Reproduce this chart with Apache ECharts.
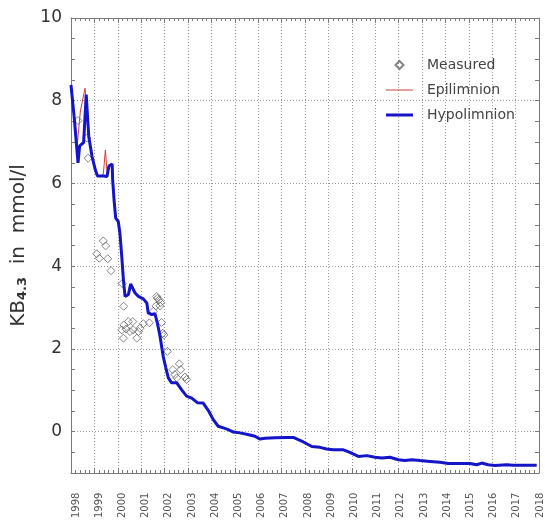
<!DOCTYPE html>
<html><head><meta charset="utf-8">
<script src="https://cdn.jsdelivr.net/npm/echarts@6/dist/echarts.min.js"></script>
<style>html,body{margin:0;padding:0;background:#fff}#c{width:545px;height:521px}</style>
</head><body><div id="c"></div>
<script>
// Tick labels
const xTickLabels = [1998,1999,2000,2001,2002,2003,2004,2005,2006,2007,2008,2009,2010,2011,2012,2013,2014,2015,2016,2017,2018];
const yTickLabels = [0,2,4,6,8,10];

// Hypolimnion (blue) [year, KB4.3]
const hypo = [
[1998.00,8.38],[1998.14,7.58],[1998.30,6.50],[1998.37,6.91],[1998.54,6.99],[1998.65,8.15],[1998.76,7.13],
[1998.90,6.65],[1999.04,6.33],[1999.13,6.18],[1999.21,6.17],[1999.40,6.18],[1999.54,6.17],[1999.62,6.42],
[1999.76,6.47],[1999.78,6.09],[1999.84,5.60],[1999.91,5.16],[2000.02,5.08],[2000.09,4.80],[2000.17,4.23],
[2000.24,3.67],[2000.31,3.27],[2000.45,3.31],[2000.55,3.57],[2000.74,3.35],[2000.88,3.27],[2001.09,3.21],
[2001.24,3.11],[2001.30,2.87],[2001.45,2.83],[2001.59,2.85],[2001.70,2.60],[2001.80,2.32],[2001.94,1.82],
[2002.05,1.55],[2002.16,1.30],[2002.30,1.18],[2002.52,1.18],[2002.73,1.01],[2002.94,0.86],[2003.16,0.81],
[2003.40,0.70],[2003.65,0.69],[2003.87,0.51],[2004.08,0.29],[2004.29,0.13],[2004.51,0.09],[2004.72,0.05],
[2004.94,-0.01],[2005.22,-0.03],[2005.55,-0.07],[2005.86,-0.11],[2006.08,-0.18],[2006.29,-0.16],[2006.72,-0.15],
[2007.22,-0.14],[2007.50,-0.14],[2007.93,-0.25],[2008.29,-0.36],[2008.64,-0.38],[2008.93,-0.42],[2009.21,-0.44],
[2009.64,-0.44],[2009.92,-0.50],[2010.28,-0.60],[2010.64,-0.58],[2010.99,-0.62],[2011.28,-0.64],[2011.63,-0.62],
[2011.99,-0.68],[2012.27,-0.70],[2012.56,-0.68],[2012.91,-0.70],[2013.34,-0.72],[2013.77,-0.74],[2014.12,-0.77],
[2014.62,-0.77],[2015.05,-0.77],[2015.34,-0.80],[2015.55,-0.76],[2015.83,-0.80],[2016.12,-0.82],[2016.62,-0.80],
[2016.90,-0.81],[2017.47,-0.81],[2017.90,-0.81]
];

// Epilimnion (red): differs from hypolimnion only in the early part
const epiEarly = [
[1998.00,8.38],[1998.14,7.58],[1998.27,6.95],[1998.40,7.75],[1998.60,8.30],[1998.76,7.15],[1998.90,6.65],
[1999.04,6.33],[1999.13,6.18],[1999.25,6.17],[1999.38,6.22],[1999.47,6.81],[1999.55,6.20],[1999.62,6.42]
];
const epi = epiEarly.concat(hypo.filter(p => p[0] > 1999.62));

// Measured values
const measured = [
[1998.30,7.52],[1998.68,7.10],[1998.73,6.61],
[1999.10,4.30],[1999.21,4.19],[1999.38,4.61],[1999.48,4.49],[1999.57,4.18],[1999.71,3.89],
[2000.19,3.58],[2000.25,3.03],
[2000.17,2.46],[2000.24,2.26],[2000.26,2.58],[2000.35,2.48],[2000.45,2.66],[2000.52,2.42],[2000.64,2.66],
[2000.66,2.46],[2000.81,2.26],[2000.88,2.42],[2000.95,2.50],[2001.09,2.61],[2001.35,2.63],[2001.52,2.91],
[2001.66,3.27],[2001.63,3.04],[2001.69,3.22],[2001.77,3.19],[2001.80,3.04],[2001.83,3.12],[2001.87,2.64],
[2001.92,2.38],[2001.97,2.34],[2002.12,1.94],[2002.35,1.50],[2002.44,1.38],[2002.52,1.30],[2002.63,1.64],
[2002.69,1.50],[2002.87,1.32],[2002.94,1.26]
];

const FONT = 'DejaVu Sans, Verdana, sans-serif';
const axisGray = '#7a7a7a';
const gridGray = '#9a9a9a';
const chart = echarts.init(document.getElementById('c'), null, {renderer:'canvas'});
chart.setOption({
  animation:false,
  backgroundColor:'#fff',
  textStyle:{fontFamily:FONT},
  grid:[
    {left:71, right:6, top:18, bottom:48},
    {left:76, right:1, top:18, bottom:48}
  ],
  legend:{
    orient:'vertical', left:386, top:58, padding:0, itemWidth:27, itemHeight:8, itemGap:11,
    textStyle:{fontSize:14, color:'#444', fontFamily:FONT, padding:[0,0,0,9]},
    data:[
      {name:'Measured', icon:'path://M4,0L8,4L4,8L0,4Z'},
      {name:'Epilimnion', icon:'path://M0,0H27V1H0Z'},
      {name:'Hypolimnion', icon:'path://M0,0H27V3H0Z'}
    ]
  },
  xAxis:[
    {type:'value', gridIndex:0, min:1998, max:2018, interval:1, position:'bottom',
     axisLine:{show:true, onZero:false, lineStyle:{color:axisGray}},
     axisTick:{show:true, inside:true, length:5, lineStyle:{color:axisGray}},
     minorTick:{show:true, splitNumber:5, length:3, lineStyle:{color:axisGray}},
     splitLine:{show:true, lineStyle:{color:gridGray, type:[1,2]}},
     axisLabel:{show:false}},
    {type:'value', gridIndex:0, min:1998, max:2018, interval:1, position:'top',
     axisLine:{show:true, onZero:false, lineStyle:{color:axisGray}},
     axisTick:{show:true, inside:true, length:5, lineStyle:{color:axisGray}},
     minorTick:{show:true, splitNumber:5, length:3, lineStyle:{color:axisGray}},
     splitLine:{show:false}, axisLabel:{show:false}},
    {type:'value', gridIndex:1, min:1998, max:2018, interval:1, position:'bottom',
     axisLine:{show:false, onZero:false}, axisTick:{show:false}, splitLine:{show:false},
     axisLabel:{rotate:90, margin:23, fontSize:10, color:'#555', fontFamily:FONT,
       formatter:v => xTickLabels.indexOf(v) >= 0 ? String(v) : ''}}
  ],
  yAxis:[
    {type:'value', gridIndex:0, min:-1, max:10, interval:0.5, position:'left',
     axisLine:{show:true, onZero:false, lineStyle:{color:axisGray}},
     axisTick:{show:true, inside:true, length:4, lineStyle:{color:axisGray}},
     splitLine:{show:true, lineStyle:{color:['rgba(0,0,0,0)','rgba(0,0,0,0)',gridGray,'rgba(0,0,0,0)'], type:[1,2]}},
     axisLabel:{margin:9, fontSize:17, color:'#333', fontFamily:FONT,
       formatter:v => yTickLabels.indexOf(v) >= 0 ? String(v) : ''},
     name:'{a|KB}{s|4.3}{a|  in  mmol/l}', nameLocation:'middle', nameRotate:90, nameGap:37,
     nameTextStyle:{fontSize:20, color:'#333', fontFamily:FONT,
       rich:{a:{fontSize:20, color:'#333', fontFamily:FONT}, s:{fontSize:13, fontWeight:'bold', color:'#333', fontFamily:FONT, padding:[9,0,0,0]}}}},
    {type:'value', gridIndex:0, min:-1, max:10, interval:0.5, position:'right',
     axisLine:{show:true, onZero:false, lineStyle:{color:axisGray}},
     axisTick:{show:true, inside:true, length:4, lineStyle:{color:axisGray}},
     splitLine:{show:false}, axisLabel:{show:false}},
    {type:'value', gridIndex:1, min:-1, max:10, show:false}
  ],
  series:[
    {name:'Measured', type:'scatter', xAxisIndex:0, yAxisIndex:0, data:measured, symbol:'diamond', symbolSize:8, z:2,
     itemStyle:{color:'rgba(255,255,255,0)', borderColor:'#666', borderWidth:1}},
    {name:'Epilimnion', type:'line', xAxisIndex:0, yAxisIndex:0, data:epi, symbol:'none', z:3,
     lineStyle:{color:'#d23a3a', width:1}, itemStyle:{color:'#d23a3a'}},
    {name:'Hypolimnion', type:'line', xAxisIndex:0, yAxisIndex:0, data:hypo, symbol:'none', z:4,
     lineStyle:{color:'#1414c8', width:3}, itemStyle:{color:'#1414c8'}}
  ]
});
</script></body></html>
